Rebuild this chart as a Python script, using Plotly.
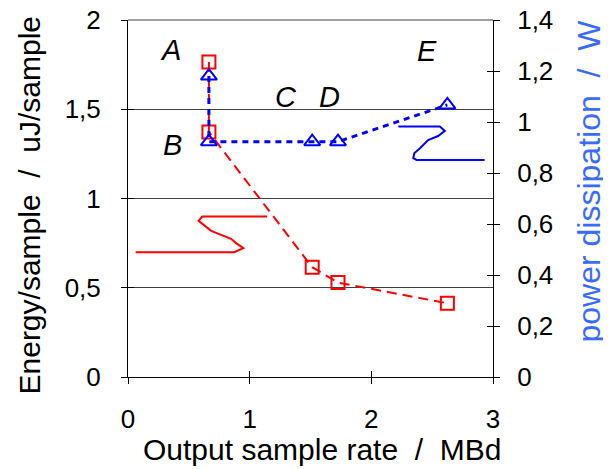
import plotly.graph_objects as go

# ---- data ----
rate_mbd = [0.665, 0.665, 1.514, 1.726, 2.625]          # output sample rate (MBd)
energy_uj = [1.765, 1.372, 0.615, 0.529, 0.413]         # energy/sample (uJ/sample), left axis
power_w = [1.18, 0.923, 0.923, 0.923, 1.067]            # power dissipation (W), right axis

point_labels = ["A", "B", "C", "D", "E"]
label_x = [0.35, 0.365, 1.30, 1.66, 2.46]
label_y = [1.83, 1.30, 1.566, 1.566, 1.824]

# freehand "axis pointer" squiggles (data coords)
red_curve_x = [1.144, 0.610, 0.580, 0.684, 0.847, 0.888, 0.948, 0.874, 0.063]
red_curve_y = [0.899, 0.899, 0.875, 0.819, 0.774, 0.750, 0.722, 0.699, 0.699]
blue_curve_x = [2.222, 2.563, 2.604, 2.549, 2.467, 2.40, 2.353, 2.345, 2.372, 2.931]
blue_curve_y = [0.982, 0.982, 0.965, 0.945, 0.929, 0.897, 0.877, 0.858, 0.851, 0.851]

x_ticks = [0, 1, 2, 3]
left_ticks = [0, 0.5, 1, 1.5, 2]
right_ticks = [0, 0.2, 0.4, 0.6, 0.8, 1.0, 1.2, 1.4]

x_title = "Output sample rate  /  MBd"
left_title = "Energy/sample  /  uJ/sample"
right_title = "power dissipation  /  W"

FONT = "Liberation Sans, Arial, sans-serif"
RED = "#ff0000"
BLUE = "#0000ff"
TITLE_BLUE = "#3a6bff"

fig = go.Figure()
fig.add_trace(go.Scatter(
    x=rate_mbd, y=energy_uj, mode="lines+markers", yaxis="y",
    line=dict(color=RED, width=2, dash="10px,6px"),
    marker=dict(symbol="square-open", size=13, color=RED, line=dict(width=2, color=RED)),
    showlegend=False, hoverinfo="skip"))
fig.add_trace(go.Scatter(
    x=rate_mbd, y=power_w, mode="lines+markers", yaxis="y2",
    line=dict(color=BLUE, width=3, dash="6px,5px"),
    marker=dict(symbol="triangle-up-open", size=14, color=BLUE, line=dict(width=2, color=BLUE)),
    showlegend=False, hoverinfo="skip"))
# empty traces so that the tick-overlay axes exist
fig.add_trace(go.Scatter(x=[], y=[], xaxis="x2", yaxis="y3", showlegend=False))
fig.add_trace(go.Scatter(x=[], y=[], xaxis="x2", yaxis="y4", showlegend=False))


def path_from(xs, ys):
    return "M " + " L ".join(f"{a},{b}" for a, b in zip(xs, ys))


shapes = [
    dict(type="path", path=path_from(red_curve_x, red_curve_y), xref="x", yref="y",
         line=dict(color=RED, width=2)),
    dict(type="path", path=path_from(blue_curve_x, blue_curve_y), xref="x", yref="y2",
         line=dict(color=BLUE, width=2)),
    dict(type="line", xref="paper", yref="paper", x0=0, x1=1, y0=1, y1=1,
         line=dict(color="#a0a0a0", width=2)),
]

annotations = [
    dict(x=lx, y=ly, xref="x", yref="y", text=f"<i>{t}</i>", showarrow=False,
         font=dict(family=FONT, size=29, color="black"))
    for t, lx, ly in zip(point_labels, label_x, label_y)
]
annotations += [
    dict(x=0.5, y=0, xref="paper", yref="paper", text=x_title, showarrow=False,
         xanchor="center", yanchor="middle", xshift=12, yshift=-72,
         font=dict(family=FONT, size=30, color="black")),
    dict(x=0, y=0.5, xref="paper", yref="paper", text=left_title, showarrow=False,
         textangle=-90, xanchor="center", yanchor="middle", xshift=-99, yshift=-7,
         font=dict(family=FONT, size=30, color="black")),
    dict(x=1, y=0.5, xref="paper", yref="paper", text=right_title, showarrow=False,
         textangle=-90, xanchor="center", yanchor="middle", xshift=95, yshift=17,
         font=dict(family=FONT, size=32, color=TITLE_BLUE)),
]

axis_common = dict(showline=True, linecolor="black", linewidth=1, ticks="outside",
                   ticklen=6, tickcolor="black", tickwidth=1, automargin=False,
                   ticklabeloverflow="allow",
                   tickfont=dict(family=FONT, size=26, color="black"), zeroline=False)
overlay_common = dict(showline=False, ticks="inside", ticklen=6, tickcolor="black",
                      showticklabels=False, showgrid=False, zeroline=False, automargin=False)

fig.update_layout(
    width=603, height=461,
    margin=dict(l=120, r=118, t=12, b=92),
    paper_bgcolor="white", plot_bgcolor="white",
    separators=",.",
    font=dict(family=FONT, color="black"),
    xaxis=dict(range=[0, 3], tickvals=x_ticks, showgrid=False, ticklabelstandoff=13, **axis_common),
    xaxis2=dict(range=[0, 3], tickvals=x_ticks, overlaying="x", matches="x", **overlay_common),
    yaxis=dict(range=[0, 2], tickvals=left_ticks, showgrid=True, gridcolor="#404040", gridwidth=1,
               ticklabelstandoff=15, **axis_common),
    yaxis2=dict(range=[0, 1.4], tickvals=right_ticks, overlaying="y", side="right", showgrid=False,
                ticklabelstandoff=12, **axis_common),
    yaxis3=dict(range=[0, 2], tickvals=left_ticks, overlaying="y", matches="y", **overlay_common),
    yaxis4=dict(range=[0, 1.4], tickvals=right_ticks, overlaying="y", side="right", **overlay_common),
    shapes=shapes,
    annotations=annotations,
)

fig.write_html("out.html")
